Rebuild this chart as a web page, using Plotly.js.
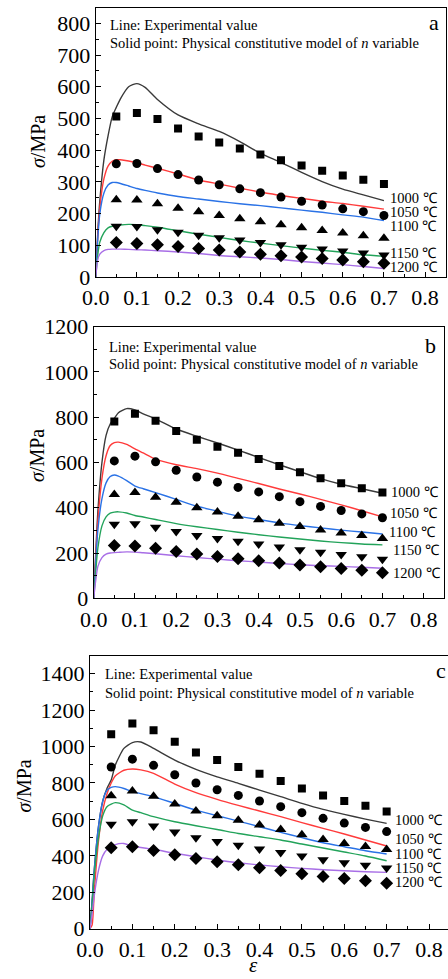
<!DOCTYPE html>
<html>
<head>
<meta charset="utf-8">
<script src="https://cdn.plot.ly/plotly-3.0.1.min.js"></script>
<style>html,body{margin:0;padding:0;overflow:hidden;background:#fff;}#chart{width:452px;height:979px;}</style>
</head>
<body>
<div id="chart"></div>
<script>
// ---------- data ----------
const temps = ["1000 ℃", "1050 ℃", "1100 ℃", "1150 ℃", "1200 ℃"];
const lineX = [0, 0.005, 0.01, 0.02, 0.03, 0.04, 0.05, 0.06, 0.08, 0.1, 0.12, 0.15, 0.2, 0.25, 0.3, 0.35, 0.4, 0.45, 0.5, 0.55, 0.6, 0.65, 0.7];
const pointX = [0.05, 0.1, 0.15, 0.2, 0.25, 0.3, 0.35, 0.4, 0.45, 0.5, 0.55, 0.6, 0.65, 0.7];

// panel a : experimental lines
const aLine1000 = [0,140,240,370,445,505,535,562,600,610,598,560,511,483,459,427,390,361,330,301,277,259,241];
const aLine1050 = [0,130,220,310,350,365,370,370,366,360,353,343,325,306,293,280,268,257,248,239,232,223,214];
const aLine1100 = [0,120,200,265,290,298,298,295,287,279,273,265,254,246,238,231,225,218,211,204,196,189,178];
const aLine1150 = [0,70,110,140,155,160,162,164,166,165,162,157,146,135,125,115,107,99,91,84,78,70,65];
const aLine1200 = [0,55,72,83,87,88,88,88,87,86,85,83,79,74,68,64,60,55,49,44,39,33,27];
// panel a : model points
const aPt1000 = [506,517,498,468,443,424,405,386,368,352,335,320,307,293];
const aPt1050 = [357,358,342,323,306,291,278,266,252,239,227,215,206,194];
const aPt1100 = [244,243,231,217,206,194,184,174,165,155,147,139,130,122];
const aPt1150 = [160,159,149,141,132,124,117,109,102,94,88,82,76,69];
const aPt1200 = [109,106,102,96,90,85,79,72,67,63,58,54,48,43];

// panel b
const bLine1000 = [0,200,380,600,720,770,795,820,838,832,815,793,748,716,686,655,622,590,559,529,504,484,464];
const bLine1050 = [0,180,340,530,630,675,688,690,680,660,642,615,590,573,553,530,507,483,461,437,413,387,360];
const bLine1100 = [0,160,300,440,510,538,545,540,520,496,484,467,437,407,385,363,348,333,321,311,301,293,284];
const bLine1150 = [0,120,220,320,360,376,381,382,377,366,359,348,330,316,304,292,281,271,262,253,246,240,236];
const bLine1200 = [0,80,140,180,195,200,202,203,205,204,201,197,188,180,173,166,160,154,148,144,141,137,133];
const bPt1000 = [781,815,785,739,701,670,643,615,585,557,530,508,486,467];
const bPt1050 = [607,628,603,566,536,513,490,470,449,427,406,388,373,356];
const bPt1100 = [459,467,447,424,400,381,363,347,332,317,302,289,277,264];
const bPt1150 = [327,329,314,295,277,264,252,240,227,215,203,193,184,173];
const bPt1200 = [233,231,221,207,196,185,175,166,156,147,139,132,124,113];

// panel c
const cLine1000 = [0,150,320,560,700,770,816,900,990,1022,1025,990,926,875,834,798,761,725,688,655,628,602,578];
const cLine1050 = [0,20,200,480,650,740,800,840,870,877,872,853,794,747,710,677,646,615,582,551,520,487,454];
const cLine1100 = [0,150,320,560,700,760,776,780,770,752,742,725,688,651,620,591,560,529,500,472,450,428,410];
const cLine1150 = [0,130,290,500,620,670,684,692,680,651,637,615,587,565,545,523,505,487,465,443,421,399,373];
const cLine1200 = [0,80,180,320,400,435,447,462,468,454,446,436,414,395,377,362,350,340,331,324,318,313,309];
const cPt1000 = [1067,1127,1089,1027,968,926,888,851,811,770,732,701,675,644];
const cPt1050 = [888,931,897,845,800,763,732,701,670,637,606,580,556,533];
const cPt1100 = [730,756,727,684,646,620,595,569,544,516,490,468,452,435];
const cPt1150 = [573,587,564,531,500,479,458,437,419,399,379,362,348,333];
const cPt1200 = [445,450,430,406,386,368,351,335,320,302,287,275,263,249];

// ---------- styles ----------
const lineColors = ["#3a3a3a", "#ff3b3b", "#2a72e6", "#22a35a", "#a86ee6"];
const symbols = ["square", "circle", "triangle-up", "triangle-down", "diamond"];
const symSizes = [8, 9, 10, 10, 10];
const FONT = "Liberation Serif";
const W = 452, H = 979;

const panels = [
  {lines:[aLine1000,aLine1050,aLine1100,aLine1150,aLine1200], pts:[aPt1000,aPt1050,aPt1100,aPt1150,aPt1200],
   px:[95.7,445.7], py:[7.5,277], yr:[0,850], dtick:100, minor:50, tag:"a",
   tagPos:[441,22.7], textX:107.7, textY:[24.7,42.7], ytitleX:38, ytitleY:142,
   labX:[0.711,0.711,0.711,0.711,0.711], labY:[250,205,161,76,32]},
  {lines:[bLine1000,bLine1050,bLine1100,bLine1150,bLine1200], pts:[bPt1000,bPt1050,bPt1100,bPt1150,bPt1200],
   px:[93.7,444.3], py:[326.7,598.3], yr:[0,1200], dtick:200, minor:100, tag:"b",
   tagPos:[438,345], textX:107, textY:[347.3,364.3], ytitleX:37, ytitleY:456,
   labX:[0.716,0.713,0.711,0.72,0.72], labY:[471,375,295,215,111]},
  {lines:[cLine1000,cLine1050,cLine1100,cLine1150,cLine1200], pts:[cPt1000,cPt1050,cPt1100,cPt1150,cPt1200],
   px:[90,450.2], py:[655.5,928.7], yr:[0,1500], dtick:200, minor:100, tag:"c",
   tagPos:[448,670], textX:103.3, textY:[674.3,692.7], ytitleX:23.5, ytitleY:786,
   labX:[0.716,0.716,0.716,0.716,0.716], labY:[597,490,410,335,254]}
];

const traces = [];
const layout = {
  width: W, height: H, margin:{l:0,r:0,t:0,b:0},
  paper_bgcolor:"#fff", plot_bgcolor:"#fff", showlegend:false,
  font:{family:FONT, color:"#000"}, annotations:[]
};
const fx = p => p / W;
const fy = p => 1 - p / H;

panels.forEach((P, i) => {
  const n = i === 0 ? "" : String(i + 1);
  const xa = "x" + n, ya = "y" + n;
  const labAxisNum = i + 4; // overlay x axis carrying the tick labels
  // invisible trace so that the label axis is drawn
  traces.push({x: lineX, y: P.lines[0], xaxis: "x" + labAxisNum, yaxis: ya, mode: "lines",
    opacity: 0, line: {width: 0}, hoverinfo: "skip"});
  for (let k = 0; k < 5; k++) {
    traces.push({x: lineX, y: P.lines[k], xaxis: xa, yaxis: ya, mode: "lines",
      line: {color: lineColors[k], width: 1.4, shape: "spline", smoothing: 0.6}, hoverinfo: "skip"});
  }
  for (let k = 0; k < 5; k++) {
    traces.push({x: pointX, y: P.pts[k], xaxis: xa, yaxis: ya, mode: "markers",
      marker: {symbol: symbols[k], size: symSizes[k], color: "#000"}, hoverinfo: "skip"});
  }
  const axCommon = {showline:true, mirror:true, linecolor:"#000", linewidth:1, showgrid:false, zeroline:false,
    ticks:"inside", ticklen:5, tickcolor:"#000", tickfont:{family:FONT, size:22, color:"#000"}};
  layout["xaxis" + n] = Object.assign({}, axCommon, {
    domain:[fx(P.px[0]), fx(P.px[1])], range:[0,0.85], anchor: ya,
    tickmode:"linear", tick0:0, dtick:0.1, showticklabels:false,
    minor:{ticks:"inside", ticklen:3, dtick:0.05, tick0:0, tickcolor:"#000", showgrid:false}
  });
  // label-only axis, overlaid on the frame axis
  layout["xaxis" + labAxisNum] = {
    overlaying: xa, anchor: ya, side:"bottom", domain:[fx(P.px[0]), fx(P.px[1])], range:[0,0.85],
    showline:false, showgrid:false, zeroline:false, ticks:"outside", ticklen:1, tickcolor:"rgba(0,0,0,0)",
    tickmode:"linear", tick0:0, dtick:0.1, tickformat:".1f", tickfont:{family:FONT, size:22, color:"#000"}
  };
  layout["yaxis" + n] = Object.assign({}, axCommon, {
    domain:[fy(P.py[1]), fy(P.py[0])], range:P.yr, anchor: xa,
    tickmode:"linear", tick0:0, dtick:P.dtick,
    minor:{ticks:"inside", ticklen:3, dtick:P.minor, tick0:0, tickcolor:"#000", showgrid:false}
  });
  // temperature labels
  for (let k = 0; k < 5; k++) {
    layout.annotations.push({xref: xa, yref: ya, x: P.labX[k], y: P.labY[k], text: temps[k],
      showarrow:false, xanchor:"left", yanchor:"middle", font:{family:FONT, size:14.5, color:"#000"}});
  }
  layout.annotations.push({xref:"paper", yref:"paper", x: fx(P.textX), y: fy(P.textY[0]),
    text:"Line: Experimental value", showarrow:false, xanchor:"left", yanchor:"middle",
    font:{family:FONT, size:14.5, color:"#000"}});
  layout.annotations.push({xref:"paper", yref:"paper", x: fx(P.textX), y: fy(P.textY[1]),
    text:"Solid point: Physical constitutive model of <i>n</i> variable", showarrow:false, xanchor:"left", yanchor:"middle",
    font:{family:FONT, size:14.5, color:"#000"}});
  layout.annotations.push({xref:"paper", yref:"paper", x: fx(P.tagPos[0]), y: fy(P.tagPos[1]),
    text:P.tag, showarrow:false, xanchor:"right", yanchor:"middle", font:{family:FONT, size:22, color:"#000"}});
  layout.annotations.push({xref:"paper", yref:"paper", x: fx(P.ytitleX), y: fy(P.ytitleY),
    text:"<i>σ</i>/MPa", showarrow:false, textangle:-90, xanchor:"center", yanchor:"middle",
    font:{family:FONT, size:20, color:"#000"}});
});
layout.annotations.push({xref:"paper", yref:"paper", x: fx(253), y: 0,
  text:"<i>ε</i>", showarrow:false, xanchor:"center", yanchor:"bottom", font:{family:FONT, size:21, color:"#000"}});

Plotly.newPlot("chart", traces, layout, {staticPlot:true, displayModeBar:false});
</script>
</body>
</html>
